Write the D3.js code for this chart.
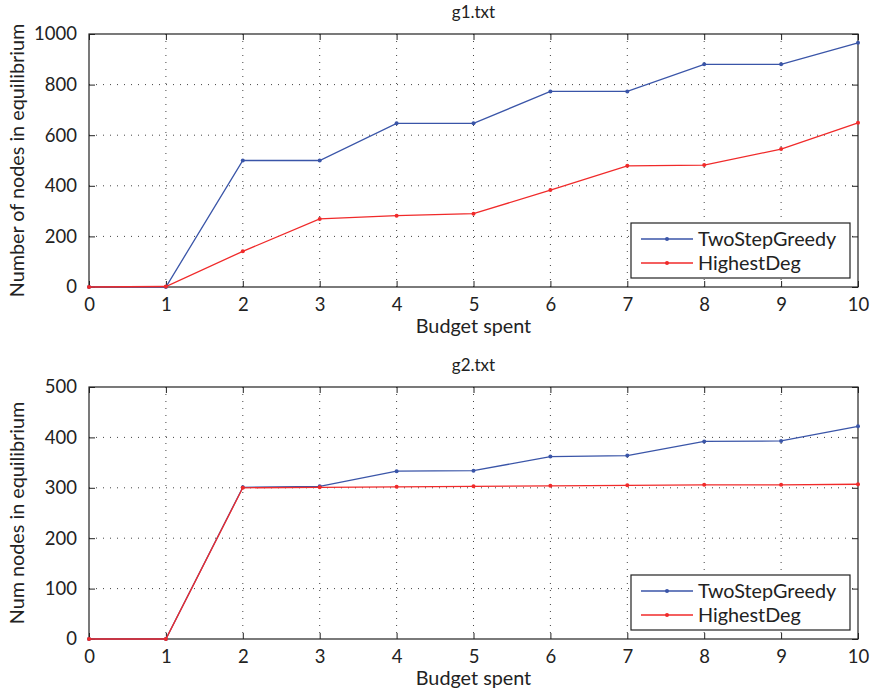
<!DOCTYPE html>
<html>
<head>
<meta charset="utf-8">
<script src="https://cdn.jsdelivr.net/npm/d3@7"></script>
<style>
  body { margin: 0; background: #fff; }
  svg text { font-family: Lato, "Open Sans", sans-serif; fill: #222; }
</style>
</head>
<body>
<svg id="chart" width="871" height="694"></svg>
<script>
const budget = [0, 1, 2, 3, 4, 5, 6, 7, 8, 9, 10];

// g1.txt
const g1TwoStep = [0, 0, 500, 500, 647, 647, 773, 773, 880, 880, 965];
const g1Highest = [0, 2, 141, 269, 282, 290, 383, 479, 482, 545, 649];

// g2.txt
const g2TwoStep = [0, 0, 301, 303, 333, 334, 362, 364, 392, 393, 422];
const g2Highest = [0, 0, 300, 301, 302, 303, 304, 305, 306, 306, 307];

const seriesNames = ['TwoStepGreedy', 'HighestDeg'];
const seriesColors = ['#3a55a8', '#f02a2a'];

const svg = d3.select('#chart');

function drawPanel(opts) {
  const { top, bottom, left, right, yMax, yTicks, title, yLabel, data } = opts;
  const g = svg.append('g');
  const x = d3.scaleLinear().domain([0, 10]).range([left, right]);
  const y = d3.scaleLinear().domain([0, yMax]).range([bottom, top]);

  // grid
  g.selectAll('.vgrid').data(budget.slice(1, -1)).enter().append('line')
    .attr('x1', d => x(d)).attr('x2', d => x(d))
    .attr('y1', top).attr('y2', bottom)
    .attr('stroke', '#444').attr('stroke-width', 1).attr('stroke-dasharray', '1,6');
  g.selectAll('.hgrid').data(yTicks.slice(1, -1)).enter().append('line')
    .attr('x1', left).attr('x2', right)
    .attr('y1', d => y(d)).attr('y2', d => y(d))
    .attr('stroke', '#444').attr('stroke-width', 1).attr('stroke-dasharray', '1,6');

  // axes (ticks pointing inward, on all four sides)
  const tl = 6;
  g.append('g').attr('transform', `translate(0,${bottom})`)
    .call(d3.axisBottom(x).tickValues(budget).tickSize(-tl).tickPadding(tl + 5))
    .call(a => a.select('.domain').remove());
  g.append('g').attr('transform', `translate(0,${top})`)
    .call(d3.axisTop(x).tickValues(budget).tickSize(-tl).tickFormat(''))
    .call(a => a.select('.domain').remove());
  g.append('g').attr('transform', `translate(${left},0)`)
    .call(d3.axisLeft(y).tickValues(yTicks).tickSize(-tl).tickPadding(tl + 6).tickFormat(d3.format('d')))
    .call(a => a.select('.domain').remove());
  g.append('g').attr('transform', `translate(${right},0)`)
    .call(d3.axisRight(y).tickValues(yTicks).tickSize(-tl).tickFormat(''))
    .call(a => a.select('.domain').remove());
  g.selectAll('.tick line').attr('stroke', '#222');
  g.selectAll('.tick text').style('font-size', '18.5px').attr('fill', '#222');

  g.append('rect')
    .attr('x', left).attr('y', top)
    .attr('width', right - left).attr('height', bottom - top)
    .attr('fill', 'none').attr('stroke', '#222').attr('stroke-width', 1.2);

  // lines
  const line = d3.line().x((d, i) => x(budget[i])).y(d => y(d));
  data.forEach((vals, si) => {
    g.append('path').datum(vals)
      .attr('d', line).attr('fill', 'none')
      .attr('stroke', seriesColors[si]).attr('stroke-width', 1.3);
    g.selectAll('.pt' + si).data(vals).enter().append('circle')
      .attr('cx', (d, i) => x(budget[i])).attr('cy', d => y(d))
      .attr('r', 2).attr('fill', seriesColors[si]);
  });

  // title and labels
  svg.append('text').attr('x', (left + right) / 2).attr('y', top - 16)
    .attr('text-anchor', 'middle').style('font-size', '17px').text(title);
  svg.append('text').attr('x', (left + right) / 2).attr('y', bottom + 46)
    .attr('text-anchor', 'middle').style('font-size', '19.8px').text('Budget spent');
  svg.append('text')
    .attr('transform', `translate(24,${(top + bottom) / 2}) rotate(-90)`)
    .attr('text-anchor', 'middle').style('font-size', '19.8px').text(yLabel);

  // legend
  const lx = right - 227, ly = bottom - 64;
  const lg = g.append('g');
  lg.append('rect').attr('x', lx).attr('y', ly).attr('width', 219).attr('height', 55)
    .attr('fill', '#fff').attr('stroke', '#222').attr('stroke-width', 1.2);
  seriesNames.forEach((name, i) => {
    const yy = ly + 16 + i * 24;
    lg.append('line').attr('x1', lx + 10).attr('x2', lx + 62)
      .attr('y1', yy).attr('y2', yy)
      .attr('stroke', seriesColors[i]).attr('stroke-width', 1.3);
    lg.append('circle').attr('cx', lx + 36).attr('cy', yy).attr('r', 2)
      .attr('fill', seriesColors[i]);
    lg.append('text').attr('x', lx + 67).attr('y', yy + 7)
      .style('font-size', '19.8px').text(name);
  });
}

drawPanel({
  top: 34, bottom: 287, left: 89, right: 858,
  yMax: 1000, yTicks: [0, 200, 400, 600, 800, 1000],
  title: 'g1.txt', yLabel: 'Number of nodes in equilibrium',
  data: [g1TwoStep, g1Highest]
});

drawPanel({
  top: 387, bottom: 639, left: 89, right: 858,
  yMax: 500, yTicks: [0, 100, 200, 300, 400, 500],
  title: 'g2.txt', yLabel: 'Num nodes in equilibrium',
  data: [g2TwoStep, g2Highest]
});
</script>
</body>
</html>
